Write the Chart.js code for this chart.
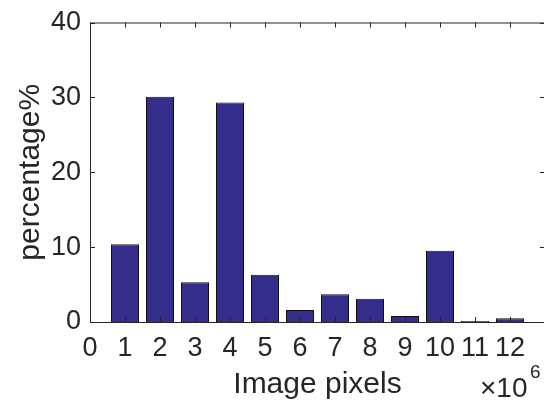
<!DOCTYPE html>
<html>
<head>
<meta charset="utf-8">
<script src="https://cdn.jsdelivr.net/npm/chart.js@4"></script>
<style>
html, body { margin: 0; padding: 0; overflow: hidden; background: #fff; }
#contenedor { width: 560px; height: 400px; }
</style>
</head>
<body>
<div id="contenedor"><canvas id="grafica"></canvas></div>
<script>
// datos
const posiciones = [0, 1, 2, 3, 4, 5, 6, 7, 8, 9, 10, 11, 12];
const porcentajes = [0, 10.4, 30.1, 5.3, 29.3, 6.3, 1.6, 3.7, 3.1, 0.8, 9.5, 0.15, 0.5];
const ticksX = [0, 1, 2, 3, 4, 5, 6, 7, 8, 9, 10, 11, 12, 13];
const ticksY = [0, 10, 20, 30, 40];

const tinta = '#262626';
const fuente = '"Liberation Sans", Arial, sans-serif';

// caja del eje con marcas hacia dentro, y el factor de escala
const marco = {
  id: 'marco',
  afterDatasetsDraw(chart) {
    const { ctx, chartArea: a, scales } = chart;
    const largo = 5;
    ctx.save();
    ctx.strokeStyle = tinta;
    ctx.lineWidth = 1;
    ctx.beginPath();
    ctx.rect(a.left + 0.5, a.top + 0.5, a.right - a.left, a.bottom - a.top);
    ticksX.forEach(v => {
      const x = Math.round(scales.x.getPixelForValue(v)) + 0.5;
      ctx.moveTo(x, a.bottom); ctx.lineTo(x, a.bottom - largo);
      ctx.moveTo(x, a.top); ctx.lineTo(x, a.top + largo);
    });
    ticksY.forEach(v => {
      const y = Math.round(scales.y.getPixelForValue(v)) + 0.5;
      ctx.moveTo(a.left, y); ctx.lineTo(a.left + largo, y);
      ctx.moveTo(a.right, y); ctx.lineTo(a.right - largo, y);
    });
    ctx.stroke();

    ctx.fillStyle = tinta;
    ctx.textAlign = 'left';
    ctx.textBaseline = 'alphabetic';
    ctx.font = '28px ' + fuente;
    ctx.fillText('\u00d710', 480, 397);
    ctx.font = '19px ' + fuente;
    ctx.fillText('6', 530, 378);
    ctx.restore();
  }
};

const ctx = document.getElementById('grafica').getContext('2d');

const grafica = new Chart(ctx, {
  type: 'bar',
  data: {
    datasets: [{
      data: posiciones.map((x, i) => ({ x: x, y: porcentajes[i] })),
      backgroundColor: '#352d8b',
      borderColor: '#111111',
      borderWidth: 1,
      barPercentage: 0.8,
      categoryPercentage: 1
    }]
  },
  options: {
    responsive: true,
    maintainAspectRatio: false,
    animation: false,
    layout: { padding: { left: 0, right: 15, top: 18, bottom: 0 } },
    plugins: {
      legend: { display: false },
      tooltip: { enabled: false }
    },
    scales: {
      x: {
        type: 'linear',
        min: 0,
        max: 13,
        offset: false,
        grid: { display: false, offset: false, drawTicks: false },
        border: { display: false },
        afterBuildTicks: s => { s.ticks = ticksX.map(v => ({ value: v })); },
        afterFit: s => { s.height = 78; },
        ticks: {
          color: tinta,
          padding: 13,
          maxRotation: 0,
          autoSkip: false,
          font: { family: fuente, size: 27, lineHeight: 1 },
          callback: v => (v <= 12 ? v : '')
        },
        title: {
          display: true,
          text: 'Image pixels',
          color: tinta,
          padding: { top: 0, bottom: 0 },
          font: { family: fuente, size: 30, lineHeight: 1 }
        }
      },
      y: {
        min: 0,
        max: 40,
        grid: { display: false, drawTicks: false },
        border: { display: false },
        afterBuildTicks: s => { s.ticks = ticksY.map(v => ({ value: v })); },
        afterFit: s => { s.width = 90; },
        ticks: {
          color: tinta,
          padding: 9,
          font: { family: fuente, size: 27, lineHeight: 1 }
        },
        title: {
          display: true,
          text: 'percentage%',
          color: tinta,
          padding: { top: 16, bottom: 0 },
          font: { family: fuente, size: 30, lineHeight: 1 }
        }
      }
    }
  },
  plugins: [marco]
});
</script>
</body>
</html>
